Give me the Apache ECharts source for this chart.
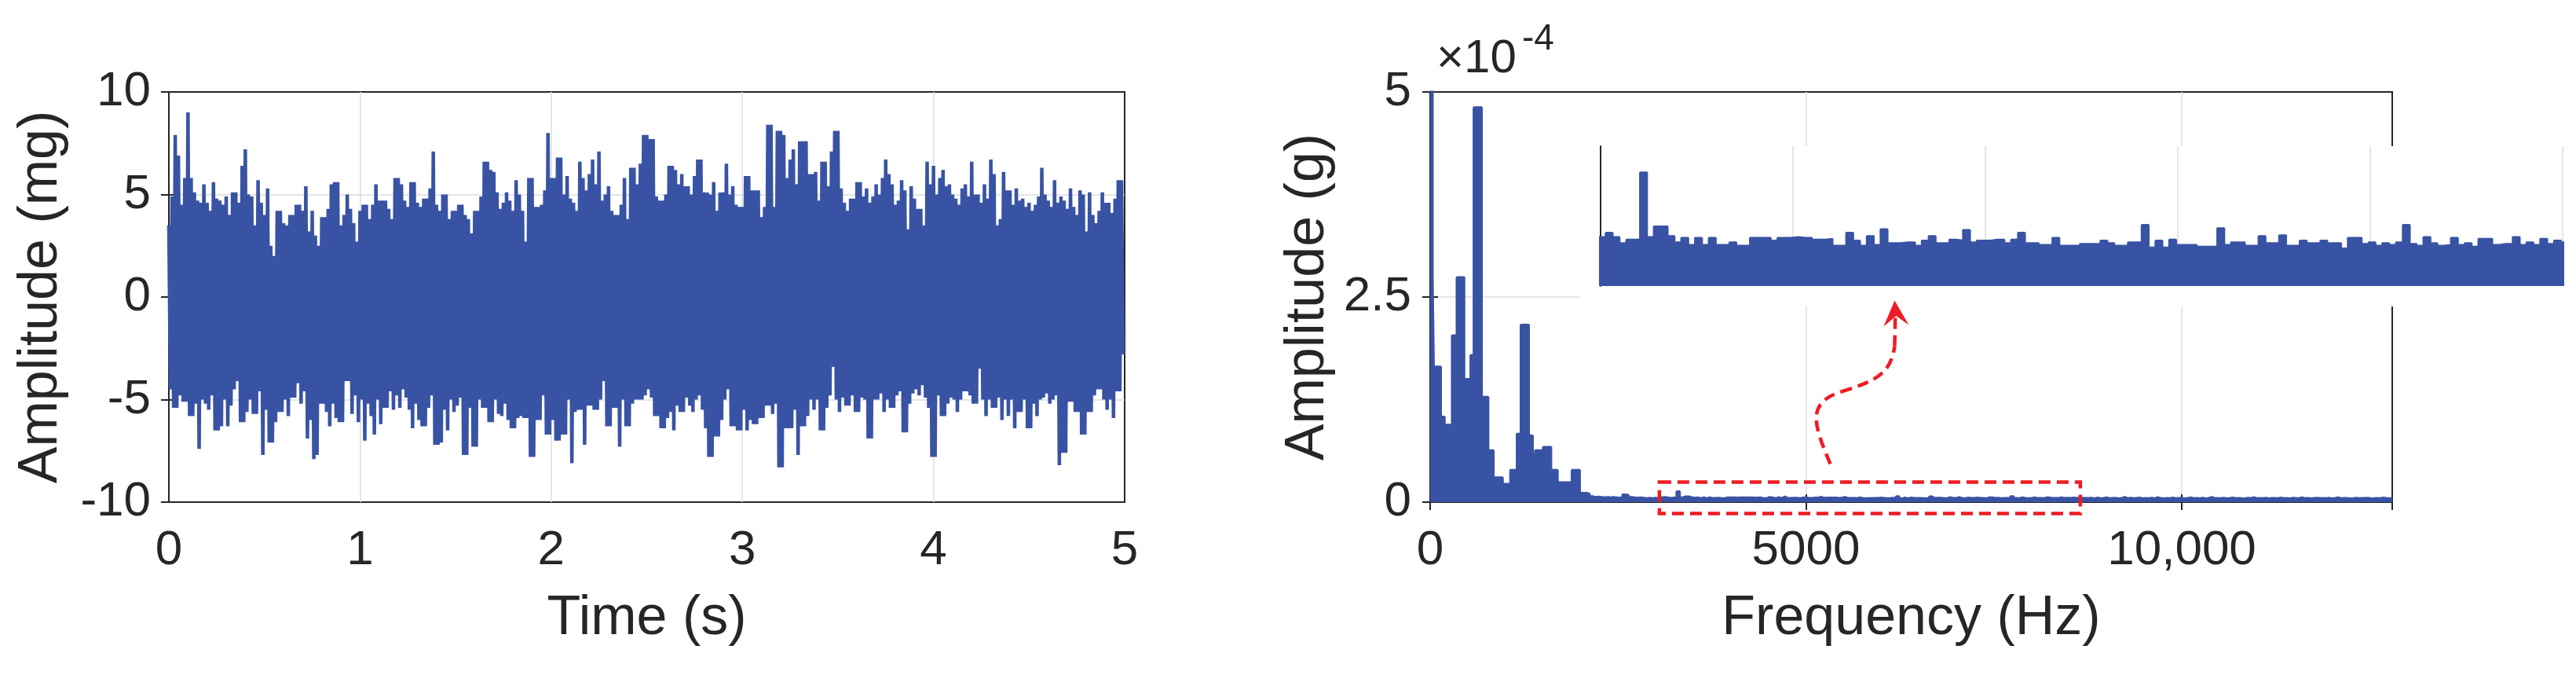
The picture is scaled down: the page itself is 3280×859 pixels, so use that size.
<!DOCTYPE html>
<html>
<head>
<meta charset="utf-8">
<title>Vibration signal and spectrum</title>
<script src="https://cdn.jsdelivr.net/npm/echarts@6/dist/echarts.min.js"></script>
<style>
  html, body { margin: 0; padding: 0; background: #fff; }
  #chart { width: 3280px; height: 859px; }
</style>
</head>
<body>
<div id="chart"></div>
<script>
// time signal: positive and negative extremes, 60 of each per second
const upperPeaksMg = [
  3.5, 4.9, 7.9, 6.9, 4.5, 5.8, 9.0, 5.8, 5.1, 4.7, 4.6, 5.5, 4.6, 4.2, 5.6, 4.8, 4.7, 4.5, 4.9, 4.0,
  5.1, 5.1, 4.6, 6.4, 7.2, 5.0, 4.9, 3.5, 5.7, 4.6, 4.0, 5.3, 2.5, 2.0, 4.2, 4.2, 3.6, 3.5, 4.0, 4.0,
  4.5, 4.5, 4.2, 5.4, 3.2, 4.2, 3.0, 2.5, 3.9, 3.9, 4.3, 5.5, 5.6, 5.6, 3.5, 4.0, 5.0, 4.3, 3.6, 2.7,
  4.2, 4.5, 4.5, 3.8, 4.5, 5.5, 4.7, 4.7, 4.7, 4.3, 3.8, 5.8, 5.8, 5.5, 4.7, 4.4, 5.6, 5.6, 4.6, 4.4,
  4.8, 4.8, 5.3, 7.1, 4.5, 4.2, 5.0, 5.0, 3.8, 4.2, 4.2, 4.5, 4.5, 4.0, 3.8, 3.1, 4.2, 4.2, 4.9, 6.6,
  6.6, 6.2, 6.1, 5.1, 4.3, 4.6, 5.1, 4.7, 4.2, 5.7, 5.0, 4.2, 2.7, 5.8, 5.8, 4.4, 4.4, 4.5, 5.2, 8.0,
  5.8, 5.8, 6.8, 6.8, 5.0, 5.9, 4.8, 4.6, 4.2, 6.6, 5.8, 5.2, 6.0, 6.7, 5.5, 7.1, 4.7, 5.0, 5.4, 4.2,
  4.0, 4.0, 4.5, 5.8, 3.8, 6.3, 6.3, 5.5, 6.5, 7.9, 7.9, 7.7, 7.7, 4.9, 4.7, 4.7, 5.0, 6.4, 6.4, 6.2,
  5.5, 6.0, 5.4, 5.4, 5.0, 5.9, 6.7, 6.7, 5.1, 5.1, 5.0, 5.6, 4.2, 5.1, 5.1, 6.5, 5.0, 5.4, 4.5, 4.4,
  4.4, 5.9, 5.9, 5.2, 5.2, 5.2, 3.9, 4.4, 8.4, 8.4, 4.4, 8.1, 8.1, 7.9, 5.8, 6.7, 7.2, 5.5, 7.6, 7.6,
  7.6, 6.0, 6.0, 6.1, 4.7, 6.6, 6.6, 5.4, 7.1, 8.1, 8.1, 5.3, 4.6, 4.2, 4.8, 4.8, 5.6, 5.6, 4.9, 5.3,
  4.6, 4.9, 5.5, 5.0, 5.8, 6.7, 6.0, 5.5, 4.5, 4.7, 5.7, 5.2, 3.3, 5.4, 4.8, 4.3, 4.3, 3.5, 6.6, 5.5,
  6.4, 5.0, 5.8, 6.2, 5.4, 5.5, 5.0, 4.8, 4.5, 5.3, 5.5, 4.9, 6.6, 5.0, 5.0, 4.6, 5.5, 4.8, 6.7, 6.0,
  3.5, 3.8, 6.1, 5.2, 5.2, 4.5, 5.3, 4.7, 4.8, 4.4, 4.6, 4.2, 4.5, 4.9, 6.3, 5.0, 4.7, 4.4, 5.7, 4.6,
  4.9, 4.7, 4.3, 5.3, 4.4, 4.0, 5.2, 5.0, 3.2, 5.1, 4.0, 3.6, 4.2, 5.1, 4.6, 4.6, 4.1, 4.8, 5.7, 5.7
];
const lowerPeaksMg = [
  -4.5, -5.4, -5.4, -4.8, -5.1, -5.1, -5.8, -5.8, -5.2, -7.4, -5.0, -5.2, -5.5, -4.8, -6.5, -6.5, -6.3, -5.0, -6.3, -5.3,
  -4.5, -4.1, -6.1, -6.1, -5.6, -5.0, -5.7, -5.7, -4.6, -7.7, -5.5, -7.1, -7.1, -6.1, -5.6, -5.6, -5.0, -5.8, -4.9, -4.9,
  -4.2, -5.2, -4.6, -6.9, -6.0, -7.9, -7.7, -5.2, -5.2, -5.6, -6.3, -5.2, -5.9, -6.1, -6.1, -4.1, -4.1, -5.7, -4.8, -6.1,
  -5.0, -7.0, -5.2, -5.8, -6.7, -5.0, -6.2, -5.4, -5.4, -4.6, -5.5, -4.8, -5.4, -4.5, -4.9, -5.5, -6.4, -5.2, -6.0, -6.3,
  -6.3, -5.4, -4.8, -7.2, -7.2, -7.1, -5.5, -6.5, -5.0, -5.6, -5.3, -4.9, -7.7, -7.7, -5.4, -7.3, -7.3, -5.0, -5.4, -5.4,
  -6.1, -6.1, -5.0, -5.7, -5.8, -5.2, -6.0, -6.4, -6.4, -5.9, -5.8, -5.9, -5.9, -7.8, -7.8, -6.0, -6.0, -4.8, -6.7, -6.7,
  -6.0, -7.0, -7.0, -6.7, -6.7, -5.0, -8.1, -5.6, -5.5, -5.5, -7.2, -5.3, -5.3, -5.5, -5.5, -5.0, -4.1, -6.3, -6.3, -5.4,
  -5.4, -7.3, -5.0, -6.3, -6.3, -5.2, -5.0, -5.0, -5.0, -4.8, -4.5, -4.9, -5.8, -5.8, -6.4, -6.4, -5.9, -5.6, -6.5, -5.3,
  -5.6, -5.6, -4.9, -5.3, -5.6, -5.0, -4.8, -5.5, -6.4, -7.8, -7.8, -6.8, -6.8, -6.0, -5.0, -4.5, -6.3, -6.3, -6.5, -6.5,
  -5.5, -6.5, -6.0, -6.2, -6.2, -5.9, -5.9, -5.3, -5.3, -5.7, -5.2, -8.3, -8.3, -6.4, -6.4, -6.4, -5.5, -7.7, -6.3, -6.3,
  -5.8, -5.0, -5.5, -5.0, -6.5, -6.5, -5.4, -4.8, -3.4, -5.0, -5.6, -4.9, -5.3, -5.3, -4.8, -5.6, -5.6, -4.9, -5.0, -6.9,
  -6.9, -5.0, -5.0, -4.7, -5.6, -5.0, -5.4, -5.4, -4.8, -4.6, -6.6, -6.6, -5.2, -4.7, -4.5, -4.8, -4.3, -4.9, -5.4, -7.8,
  -7.8, -4.8, -5.8, -5.8, -5.2, -4.9, -5.0, -5.6, -5.0, -4.6, -4.6, -4.8, -5.2, -5.2, -3.5, -5.0, -5.8, -5.0, -5.4, -5.4,
  -4.9, -6.0, -5.0, -5.8, -5.0, -6.4, -5.6, -5.6, -5.0, -6.4, -6.4, -5.2, -5.8, -5.0, -4.9, -4.7, -5.2, -5.0, -4.8, -8.2,
  -7.6, -7.6, -5.1, -5.1, -5.6, -5.6, -6.7, -6.7, -5.6, -5.6, -4.8, -4.5, -4.5, -5.0, -5.5, -5.0, -5.9, -4.6, -4.6, -2.8
];
const PEAKS_PER_SECOND = 60;

// spectrum below 2 kHz: start frequency of each level and its amplitude (x1e-4 g)
const lowFreqHz = [0, 31, 47, 141, 191, 292, 355, 452, 539, 581, 685, 772, 842, 964, 1068, 1155, 1207,
  1312, 1364, 1398, 1503, 1608, 1695, 1782, 1886, 1990];
const lowFreqAmp = [5.4, 2.74, 1.65, 1.04, 0.94, 2.03, 2.74, 1.5, 1.79, 4.81, 1.28, 0.63, 0.3, 0.22, 0.39, 0.83, 2.16,
  0.81, 0.57, 0.63, 0.67, 0.39, 0.24, 0.24, 0.39, 0.11];

// noise floor from 2080 Hz to 12800 Hz in 40 Hz bins (x1e-4 g)
const FLOOR_START_HZ = 2080;
const FLOOR_STEP_HZ = 40;
const floorAmp = [
  // 2080 - 3000 Hz
  0.10, 0.07, 0.06, 0.065, 0.06, 0.055, 0.06, 0.055, 0.06, 0.055, 0.05, 0.06, 0.09, 0.085, 0.06, 0.055,
  0.05, 0.055, 0.05, 0.045, 0.05, 0.045, 0.05, 0.045,
  // 3040 - 8680 Hz (the zoomed part)
  0.056, 0.061, 0.056, 0.049, 0.053, 0.053, 0.130, 0.056, 0.068, 0.068,
  0.057, 0.050, 0.055, 0.047, 0.055, 0.047, 0.055, 0.047, 0.047, 0.050,
  0.046, 0.046, 0.055, 0.055, 0.055, 0.052, 0.055, 0.055, 0.056, 0.055,
  0.055, 0.053, 0.053, 0.054, 0.046, 0.046, 0.061, 0.052, 0.046, 0.057,
  0.047, 0.065, 0.049, 0.049, 0.050, 0.050, 0.046, 0.052, 0.057, 0.049,
  0.049, 0.053, 0.052, 0.064, 0.050, 0.052, 0.052, 0.053, 0.053, 0.049,
  0.053, 0.061, 0.049, 0.049, 0.047, 0.047, 0.055, 0.046, 0.046, 0.046,
  0.048, 0.048, 0.048, 0.052, 0.049, 0.046, 0.046, 0.050, 0.050, 0.070,
  0.044, 0.052, 0.044, 0.053, 0.047, 0.047, 0.047, 0.045, 0.045, 0.045,
  0.066, 0.047, 0.050, 0.050, 0.046, 0.046, 0.057, 0.049, 0.049, 0.058,
  0.046, 0.046, 0.052, 0.049, 0.049, 0.052, 0.049, 0.049, 0.043, 0.055,
  0.055, 0.048, 0.050, 0.046, 0.049, 0.047, 0.050, 0.070, 0.048, 0.046,
  0.056, 0.049, 0.046, 0.047, 0.055, 0.047, 0.049, 0.045, 0.054, 0.054,
  0.047, 0.048, 0.048, 0.056, 0.047, 0.050, 0.047, 0.054, 0.048, 0.052,
  0.050, 0.048,
  // 8720 - 12800 Hz
  0.047, 0.05, 0.044, 0.052, 0.046, 0.049, 0.055, 0.045, 0.048, 0.051,
  0.044, 0.047, 0.06, 0.046, 0.05, 0.045, 0.049, 0.053, 0.044, 0.048,
  0.046, 0.05, 0.045, 0.057, 0.047, 0.044, 0.049, 0.046, 0.052, 0.045,
  0.048, 0.05, 0.044, 0.047, 0.055, 0.046, 0.049, 0.045, 0.051, 0.044,
  0.047, 0.062, 0.046, 0.048, 0.045, 0.05, 0.044, 0.047, 0.053, 0.045,
  0.049, 0.046, 0.044, 0.05, 0.047, 0.058, 0.045, 0.048, 0.046, 0.051,
  0.044, 0.047, 0.049, 0.045, 0.052, 0.046, 0.048, 0.044, 0.05, 0.047,
  0.045, 0.055, 0.046, 0.049, 0.044, 0.048, 0.051, 0.045, 0.047, 0.046,
  0.05, 0.044, 0.048, 0.056, 0.045, 0.047, 0.049, 0.044, 0.046, 0.051,
  0.045, 0.048, 0.047, 0.05, 0.044, 0.046, 0.049, 0.045, 0.052, 0.047,
  0.045, 0.048, 0.046
];

// zoomed window shown in the inset and marked by the red box
const zoomFreqHz = [3050, 8650];
const zoomBoxAmp = [-0.14, 0.245];
// dashed arrow from the box up to the inset, in (Hz, x1e-4 g)
const arrowCurve = [[5324, 0.465], [5104, 0.943], [5000, 1.21], [5470, 1.346],
  [5939, 1.48], [6127, 1.566], [6180, 1.9], [6190, 2.33]];
const arrowHead = [[6180, 2.457], [6367, 2.16], [6200, 2.27], [6033, 2.14]];

const FONT = '"Liberation Sans", Arial, Helvetica, sans-serif';
const INK = '#262626';
const BLUE = '#3953a4';
const RED = '#ed1c24';
const GRID_GRAY = '#dcdcdc';

const LEFT = { left: 215, top: 117, width: 1217, height: 522 };
const RIGHT = { left: 1821, top: 117, width: 1225, height: 522 };
const INSET = { left: 2038, top: 186, width: 1225, height: 178 };

const timeData = [];
for (let k = 0; k < upperPeaksMg.length; k++) {
  timeData.push([k / PEAKS_PER_SECOND, upperPeaksMg[k]]);
  timeData.push([(k + 0.5) / PEAKS_PER_SECOND, lowerPeaksMg[k]]);
}
const specData = lowFreqHz.map((f, i) => [f, lowFreqAmp[i]])
  .concat(floorAmp.map((a, i) => [FLOOR_START_HZ + i * FLOOR_STEP_HZ, a]));

const tickStyle = { show: true, inside: true, length: 10, lineStyle: { color: INK, width: 2 } };
const labelStyle = { fontSize: 62, color: INK, fontFamily: FONT };
const nameStyle = { fontSize: 70, color: INK, fontFamily: FONT };
const gridLines = { show: true, showMinLine: false, showMaxLine: false, lineStyle: { color: GRID_GRAY, width: 1.5 } };

function mirror(extra) {
  return Object.assign({
    type: 'value',
    axisLine: { show: false },
    axisTick: tickStyle,
    axisLabel: { show: false },
    splitLine: { show: false }
  }, extra);
}

const chart = echarts.init(document.getElementById('chart'));
chart.setOption({
  animation: false,
  backgroundColor: '#fff',
  grid: [
    Object.assign({ show: true, borderColor: INK, borderWidth: 2, backgroundColor: 'transparent' }, LEFT),
    Object.assign({ show: true, borderColor: INK, borderWidth: 2, backgroundColor: 'transparent' }, RIGHT),
    Object.assign({ show: false }, INSET)
  ],
  xAxis: [
    {
      type: 'value', gridIndex: 0, position: 'bottom', min: 0, max: 5, interval: 1,
      name: 'Time (s)', nameLocation: 'middle', nameGap: 114, nameTextStyle: nameStyle,
      axisLine: { show: false }, axisTick: tickStyle,
      axisLabel: Object.assign({ margin: 31 }, labelStyle),
      splitLine: gridLines
    },
    mirror({ gridIndex: 0, position: 'top', min: 0, max: 5, interval: 1 }),
    {
      type: 'value', gridIndex: 1, position: 'bottom', min: 0, max: 12800, interval: 5000,
      name: 'Frequency (Hz)', nameLocation: 'middle', nameGap: 114, nameTextStyle: nameStyle,
      axisLine: { show: false }, axisTick: tickStyle,
      axisLabel: Object.assign({
        margin: 31, showMaxLabel: false,
        formatter: v => (v >= 10000 ? v.toLocaleString('en-US') : String(v))
      }, labelStyle),
      splitLine: gridLines
    },
    mirror({ gridIndex: 1, position: 'top', min: 0, max: 12800, interval: 5000 }),
    { type: 'value', gridIndex: 2, show: false, min: zoomFreqHz[0], max: zoomFreqHz[1] },
    {
      type: 'value', gridIndex: 2, position: 'bottom', min: 0, max: 5, interval: 1, z: 6,
      axisLine: { show: false }, axisTick: { show: false }, axisLabel: { show: false },
      splitLine: { show: true, showMinLine: false, lineStyle: { color: GRID_GRAY, width: 1.5 } }
    }
  ],
  yAxis: [
    {
      type: 'value', gridIndex: 0, position: 'left', min: -10, max: 10, interval: 5,
      name: 'Amplitude (mg)', nameLocation: 'middle', nameGap: 127, nameTextStyle: nameStyle,
      axisLine: { show: false }, axisTick: tickStyle,
      axisLabel: Object.assign({ margin: 23 }, labelStyle),
      splitLine: gridLines
    },
    mirror({ gridIndex: 0, position: 'right', min: -10, max: 10, interval: 5 }),
    {
      type: 'value', gridIndex: 1, position: 'left', min: 0, max: 5, interval: 2.5,
      name: 'Amplitude (g)', nameLocation: 'middle', nameGap: 120, nameTextStyle: nameStyle,
      axisLine: { show: false }, axisTick: tickStyle,
      axisLabel: Object.assign({ margin: 24 }, labelStyle),
      splitLine: gridLines
    },
    mirror({ gridIndex: 1, position: 'right', min: 0, max: 5, interval: 2.5 }),
    {
      type: 'value', gridIndex: 2, min: 0, max: 0.16, z: 6,
      axisLine: { show: true, lineStyle: { color: INK, width: 2 } },
      axisTick: { show: false }, axisLabel: { show: false }, splitLine: { show: false }
    }
  ],
  series: [
    {
      type: 'line', xAxisIndex: 0, yAxisIndex: 0, data: timeData,
      symbol: 'none', lineStyle: { color: BLUE, width: 4.5 }, itemStyle: { color: BLUE }
    },
    {
      type: 'line', xAxisIndex: 2, yAxisIndex: 2, data: specData, step: 'end',
      symbol: 'none', lineStyle: { color: BLUE, width: 3 }, itemStyle: { color: BLUE },
      areaStyle: { color: BLUE, opacity: 1 }
    },
    {
      type: 'line', xAxisIndex: 4, yAxisIndex: 4, data: specData, step: 'end', z: 7,
      symbol: 'none', lineStyle: { color: BLUE, width: 2.5 }, itemStyle: { color: BLUE },
      areaStyle: { color: BLUE, opacity: 1 }
    }
  ]
});

// annotations placed through the spectrum's own axes
const toPx = pt => chart.convertToPixel({ seriesIndex: 1 }, pt);
const boxA = toPx([zoomFreqHz[0], zoomBoxAmp[1]]);
const boxB = toPx([zoomFreqHz[1], zoomBoxAmp[0]]);
const c = arrowCurve.map(toPx);
const dashed = { fill: 'none', stroke: RED, lineWidth: 4.5, lineDash: [14, 8] };

function bezier(p0, p1, p2, p3) {
  return {
    type: 'bezierCurve', z: 8, silent: true,
    shape: { x1: p0[0], y1: p0[1], cpx1: p1[0], cpy1: p1[1], cpx2: p2[0], cpy2: p2[1], x2: p3[0], y2: p3[1] },
    style: dashed
  };
}

chart.setOption({
  graphic: [
    {
      // white backdrop behind the inset
      type: 'rect', z: 5, silent: true,
      shape: { x: INSET.left - 26, y: INSET.top, width: 3280 - INSET.left + 26, height: INSET.height + 26 },
      style: { fill: '#fff' }
    },
    {
      type: 'rect', z: 8, silent: true,
      shape: { x: boxA[0], y: boxA[1], width: boxB[0] - boxA[0], height: boxB[1] - boxA[1] },
      style: { fill: 'none', stroke: RED, lineWidth: 4.5, lineDash: [15, 8] }
    },
    bezier(c[0], c[1], c[2], c[3]),
    bezier(c[3], c[4], c[5], c[6]),
    {
      type: 'line', z: 8, silent: true,
      shape: { x1: c[6][0], y1: c[6][1], x2: c[7][0], y2: c[7][1] },
      style: dashed
    },
    {
      type: 'polygon', z: 8, silent: true,
      shape: { points: arrowHead.map(toPx) },
      style: { fill: RED }
    },
    {
      type: 'text', z: 8, silent: true, x: RIGHT.left + 8, y: RIGHT.top - 42,
      style: { text: '\u00d710', fontSize: 60, fontFamily: FONT, fill: INK, verticalAlign: 'middle' }
    },
    {
      type: 'text', z: 8, silent: true, x: RIGHT.left + 117, y: RIGHT.top - 67,
      style: { text: '-4', fontSize: 46, fontFamily: FONT, fill: INK, verticalAlign: 'middle' }
    }
  ]
});
</script>
</body>
</html>
